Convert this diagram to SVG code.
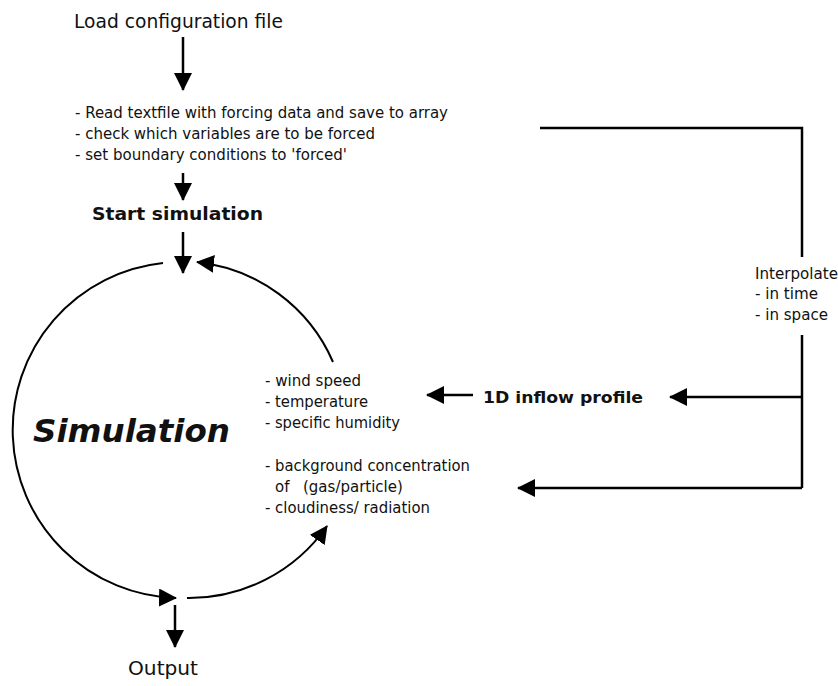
<svg xmlns="http://www.w3.org/2000/svg" width="838" height="686" viewBox="0 0 838 686">
<style>
text{font-family:"DejaVu Sans","Liberation Sans",sans-serif;fill:#111}
.t{font-size:15px}
.b{font-weight:bold}
.ln{fill:none;stroke:#000;stroke-width:2.5}
.arc{fill:none;stroke:#000;stroke-width:2}
</style>
<defs>
<marker id="ah" markerUnits="userSpaceOnUse" viewBox="0 0 18 18" markerWidth="18" markerHeight="18" refX="17" refY="9" orient="auto">
<path d="M0,0 L18,9 L0,18 z" fill="#000"/>
</marker>
</defs>
<rect width="838" height="686" fill="#fff"/>
<g id="load">
<text x="74" y="28" font-size="20" textLength="209" lengthAdjust="spacingAndGlyphs">Load configuration file</text>
</g>
<g id="read">
<text class="t" x="75" y="118" textLength="373" lengthAdjust="spacingAndGlyphs">- Read textfile with forcing data and save to array</text>
<text class="t" x="75" y="139" textLength="300" lengthAdjust="spacingAndGlyphs">- check which variables are to be forced</text>
<text class="t" x="75" y="160" textLength="272" lengthAdjust="spacingAndGlyphs">- set boundary conditions to 'forced'</text>
</g>
<g id="start">
<text class="b" x="92" y="220" font-size="17" textLength="171" lengthAdjust="spacingAndGlyphs">Start simulation</text>
</g>
<g id="simulation">
<text x="33" y="442" font-size="32" font-weight="bold" font-style="italic" textLength="197" lengthAdjust="spacingAndGlyphs">Simulation</text>
</g>
<g id="vars">
<text class="t" x="265" y="386" textLength="96" lengthAdjust="spacingAndGlyphs">- wind speed</text>
<text class="t" x="265" y="407" textLength="103" lengthAdjust="spacingAndGlyphs">- temperature</text>
<text class="t" x="265" y="428" textLength="135" lengthAdjust="spacingAndGlyphs">- specific humidity</text>
<text class="t" x="265" y="471" textLength="205" lengthAdjust="spacingAndGlyphs">- background concentration</text>
<text class="t" x="275" y="492">of <tspan x="303">(gas/particle)</tspan></text>
<text class="t" x="265" y="513" textLength="165" lengthAdjust="spacingAndGlyphs">- cloudiness/ radiation</text>
</g>
<g id="profile">
<text class="b" x="483" y="403" font-size="16" textLength="160" lengthAdjust="spacingAndGlyphs">1D inflow profile</text>
</g>
<g id="interpolate">
<text class="t" x="755" y="279" textLength="83" lengthAdjust="spacingAndGlyphs">Interpolate</text>
<text class="t" x="755" y="299" textLength="63" lengthAdjust="spacingAndGlyphs">- in time</text>
<text class="t" x="755" y="320" textLength="73" lengthAdjust="spacingAndGlyphs">- in space</text>
</g>
<g id="output">
<text x="128" y="675" font-size="20" textLength="70" lengthAdjust="spacingAndGlyphs">Output</text>
</g>
<g id="connectors">
<line class="ln" x1="183" y1="37" x2="183" y2="90" marker-end="url(#ah)"/>
<line class="ln" x1="183" y1="173" x2="183" y2="200" marker-end="url(#ah)"/>
<line class="ln" x1="183" y1="232" x2="183" y2="273" marker-end="url(#ah)"/>
<path class="arc" d="M163,263 A168,168 0 0 0 176,598" marker-end="url(#ah)"/>
<path class="arc" d="M187,598 A168,168 0 0 0 327,526" marker-end="url(#ah)"/>
<path class="arc" d="M333,362 A168,168 0 0 0 197,262" marker-end="url(#ah)"/>
<line class="ln" x1="175" y1="605" x2="175" y2="647" marker-end="url(#ah)"/>
<line class="ln" x1="473" y1="395" x2="427" y2="395" marker-end="url(#ah)"/>
<polyline class="ln" points="540,128 802,128 802,257"/>
<polyline class="ln" points="802,335 802,488"/>
<line class="ln" x1="802" y1="397" x2="670" y2="397" marker-end="url(#ah)"/>
<line class="ln" x1="802" y1="488" x2="518" y2="488" marker-end="url(#ah)"/>
</g>
</svg>
